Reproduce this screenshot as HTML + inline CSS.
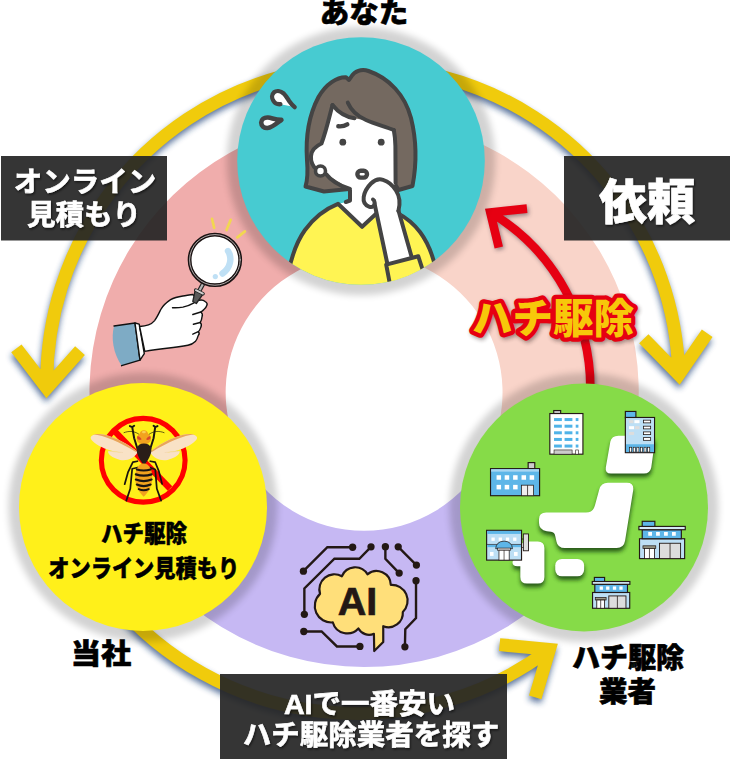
<!DOCTYPE html>
<html lang="ja">
<head>
<meta charset="utf-8">
<title>ハチ駆除 オンライン見積もり</title>
<style>
html,body{margin:0;padding:0;background:#fff;}
body{width:731px;height:759px;overflow:hidden;font-family:"Liberation Sans","Noto Sans CJK JP",sans-serif;}
svg{display:block;}
text{font-family:"Liberation Sans","Noto Sans CJK JP",sans-serif;font-weight:700;}
.blk{font-weight:900;}
</style>
</head>
<body>
<svg width="731" height="759" viewBox="0 0 731 759">
<defs>
  <filter id="glow" x="-20%" y="-20%" width="140%" height="140%">
    <feGaussianBlur stdDeviation="3.8"/>
  </filter>
  <filter id="arrsh2" x="-10%" y="-10%" width="120%" height="120%">
    <feGaussianBlur stdDeviation="3"/>
  </filter>
  <filter id="arrsh" x="-10%" y="-10%" width="120%" height="120%">
    <feGaussianBlur stdDeviation="2"/>
  </filter>
  <filter id="txtsh" x="-10%" y="-10%" width="120%" height="130%">
    <feDropShadow dx="1" dy="1.5" stdDeviation="1" flood-color="#000" flood-opacity="0.6"/>
  </filter>
  <clipPath id="clipTop"><circle cx="361" cy="161" r="123.8"/></clipPath>
</defs>

<!-- donut ring -->
<g id="ring">
  <path d="M120.5 519.1A274.6 274.6 0 0 1 364.1 117.7L364.1 253.9A138.4 138.4 0 0 0 241.3 456.2Z" fill="#F0ADAC"/>
  <path d="M364.1 117.7A274.6 274.6 0 0 1 607.5 519.5L486.8 456.4A138.4 138.4 0 0 0 364.1 253.9Z" fill="#F9D4C9"/>
  <path d="M607.5 519.5A274.6 274.6 0 0 1 120.5 519.1L241.3 456.2A138.4 138.4 0 0 0 486.8 456.4Z" fill="#C6B8F3"/>
</g>

<!-- yellow arcs -->
<g id="arcs">
  <g fill="none" stroke="#1F4178" stroke-width="13" stroke-linejoin="miter" opacity="0.72" filter="url(#arrsh2)" transform="translate(-0.5,4)">
    <path d="M280.0 77.1A316.2 316.2 0 0 0 46.8 388.0M16.4 348.4L46.8 388.0L80.0 350.6"/>
    <path d="M443.6 77.1A316.2 316.2 0 0 1 678.8 374.5M643.8 338.8L678.8 374.5L707.2 333.3"/>
    <path d="M113.9 600.2A318.7 318.7 0 0 0 549.4 649.4M535.2 697.3L549.4 649.4L499.6 644.6"/>
  </g>
  <g fill="none" stroke="#F0CB0C" stroke-width="13" stroke-linejoin="miter">
    <path d="M280.0 77.1A316.2 316.2 0 0 0 46.8 388.0M16.4 348.4L46.8 388.0L80.0 350.6"/>
    <path d="M443.6 77.1A316.2 316.2 0 0 1 678.8 374.5M643.8 338.8L678.8 374.5L707.2 333.3"/>
    <path d="M113.9 600.2A318.7 318.7 0 0 0 549.4 649.4M535.2 697.3L549.4 649.4L499.6 644.6"/>
  </g>
</g>

<!-- circles -->
<g id="redarrow-wrap">
  <g id="redarrow" fill="none" stroke-linejoin="miter">
    <path d="M590.2 396.0A204.5 204.5 0 0 0 490.3 212.4M527 208.6L490.3 212.4L498.8 247.6" stroke="#3a3040" stroke-width="8.6" opacity="0.5" filter="url(#arrsh)" transform="translate(1.5,2)"/>
    <path d="M590.2 396.0A204.5 204.5 0 0 0 490.3 212.4M527 208.6L490.3 212.4L498.8 247.6" stroke="#E60012" stroke-width="8.6"/>
  </g>
</g>
<g id="circles">
  <g fill="#000" opacity="0.172" filter="url(#glow)">
    <circle cx="361" cy="161" r="134.3"/>
    <circle cx="143" cy="507" r="134.5"/>
    <circle cx="584" cy="507.5" r="134.5"/>
  </g>
  <circle cx="361" cy="161" r="123.8" fill="#47CBD1"/>
  <g id="woman" clip-path="url(#clipTop)">
    <g stroke="#444" stroke-width="4" stroke-linecap="round" stroke-linejoin="round" fill="none">
      <!-- hair back -->
      <path d="M346 77.3C337 77 326 84 318.5 97C309 115 305.5 138 307 160C308 172 307.5 180 305.5 186.5L324 191.5L349 189L395 184L398.5 190L412.5 186C416.5 165 416.5 140 411 118C405 95 389 78 368.5 71C361 68.5 354.5 71.5 351.5 76.3L349 80Z" fill="#746960"/>
      <!-- neck / chest skin -->
      <path d="M350 186L350 201L338 204L362 227L380 212L392 186Z" fill="#fff" stroke="none"/>
      <!-- shirt -->
      <path d="M338 203.8C325 209 313 219 305 230C297 241 292 255 288.5 272L286 300L440 300L435.5 268C432 252 426 240 420 232C413 223 405 217 398 213.5L378 212L362.1 226.8Z" fill="#FFF453"/>
      <!-- neck lines -->
      <path d="M350 189L350 200.5L345.8 202"/>
      <!-- face -->
      <path d="M332.5 105C338 112 346 117 354.5 118.3C368 120.5 382 125 393.8 130L395.6 184L372 200L350 189L326 174C318 172 310.5 164 311 156C311.5 150 316 146 321.5 143.5C326.5 130 329.5 116 332.5 105Z" fill="#fff" stroke="none"/>
      <path d="M332.5 105C329.5 116 326.5 130 321.5 143.5C316 146 311.5 150 311 156C310.5 162 313.5 167 317 170"/>
      <path d="M326 174C331 180.5 340 186 350 189"/>
      <path d="M393.8 130C394.8 135 395.3 140 395.4 146L395.6 183"/>
      <!-- bangs -->
      <path d="M332.5 105C338 112 346 117 354.5 118.3"/>
      <path d="M347.8 102.7C351 110 357 116 366 120C375 124 385 126.5 393.8 130"/>
      <!-- brow -->
      <path d="M338.3 126.3C341 126.6 344.6 126 347.3 124.3" stroke-width="4.4"/>
      <!-- eyes -->
      <circle cx="342.8" cy="142.2" r="3.4" fill="#444" stroke="none"/>
      <circle cx="381.2" cy="142.2" r="3.4" fill="#444" stroke="none"/>
      <!-- mouth -->
      <rect x="357.4" y="170.8" width="9.6" height="6.8" rx="3.3" fill="#fff" stroke-width="4.4"/>
      <!-- earring -->
      <circle cx="320.5" cy="171" r="5" fill="#fff" stroke-width="3.6"/>
      <!-- arm -->
      <path d="M373 199L387.4 264L412 257.5L399 206L385 190Z" fill="#fff" stroke="none"/>
      <path d="M374.5 203.5L387.2 263"/>
      <path d="M398.4 210.3L411.5 256.5"/>
      <!-- sleeve -->
      <path d="M386.2 264.6L418.3 256.3L426 280L392 295Z" fill="#FFF453"/>
      <!-- fist -->
      <path d="M398.4 211C400.3 204 399.5 196 396 190.5C393 185.5 388.5 181.5 383 179.8C378.5 178.5 374.5 180 371 183.5C367.5 187 364.5 191.5 363.7 197C363 202 365.5 205.5 369.5 206.8C372.5 207.8 374.8 205.5 374.6 202.5C374.5 201 374 200 373 199.5" fill="#fff"/>
      
      <!-- sweat -->
      <path d="M280.4 104.2C277.5 104.5 275 103.5 273.5 101C271.5 98 271.5 94.5 274 92.3C276.5 90.3 280.5 90.8 283.7 93.5C286 95.8 287.5 98.5 289.5 101.5C291 103.8 292.8 105.5 294.7 107.1" fill="#fff" stroke-width="4.3"/>
      <path d="M281.4 119.8C276 120 272 118 268 117.5C264 117.2 261.2 119.5 261.2 122.6C261.2 126 264 128.2 267.5 128C272 127.5 276.5 123.5 281.4 119.8Z" fill="#fff" stroke-width="4.6"/>
    </g>
  </g>
  <circle cx="143" cy="507" r="124" fill="#FFF01A"/>
  <circle cx="584" cy="507.5" r="124" fill="#86DB48"/>
  <g id="magnifier" stroke-linecap="round" stroke-linejoin="round">
    <!-- rays -->
    <g stroke="#F2D750" stroke-width="2.7" fill="none">
      <path d="M212 218.8L214.2 227.9M230.7 219.8L226.5 230.1M244.9 231.4L237.4 237.4"/>
    </g>
    <!-- sleeve -->
    <path d="M114 326C111 338 113 353 121.6 365.7L140 360.2L135 323Z" fill="#7EABC5"/>
    <path d="M114 326L135 323L140 360.2L121.6 365.7" fill="none" stroke="#111" stroke-width="1.4"/>
    <!-- cuff -->
    <path d="M135 323L139.2 324.2L144.3 353.6L140 360.2Z" fill="#fff" stroke="#111" stroke-width="1.4"/>
    <!-- handle -->
    <path d="M203 284L198.6 292" stroke="#222" stroke-width="4.6" fill="none" stroke-linecap="butt"/>
    <path d="M203 284L198.6 292" stroke="#B5B5B5" stroke-width="2.2" fill="none" stroke-linecap="butt"/>
    <!-- hand -->
    <path d="M139.6 326.5C143 326.3 146 325.8 148.5 324.9C151 324 153 322.5 154.6 320.6C157 317.5 158.8 313.5 160.8 309.5C163 305.5 166.5 302.5 170.6 299.7C174.5 297.5 178.5 296.7 182.9 296C186.5 295.5 190 294.8 192.8 294.5L198.9 300.3C201 299.8 203.5 300 205.1 301.5C206.8 302.5 207.5 304 206.9 305.2C206.3 307 205.2 308.5 203.9 309.5C203 310.5 202 311.3 200.8 312C202.3 313.2 202.8 315 202 316.9C201.8 319 201.2 321 200.2 322.5C201.5 323.8 201.6 325.8 200.8 327.4C200.3 329 199.5 330.6 198.3 331.7C199.5 332.8 199.3 334.2 198.3 335.4C197.7 337.6 196.8 339.8 195.3 341.6C193.3 343.6 190.8 344.8 187.9 345.3C181 346.8 174 347.6 166.9 348.3C159.5 349.2 152 350.2 144.8 351.4Z" fill="#fff" stroke="#111" stroke-width="1.4"/>
    <path d="M172.5 307.7C176 307.9 179.5 307.7 182.9 307.1C187 306.2 190.7 304.7 194 302.8M200.8 312L192.8 314.5M200.2 322.5L193.4 324.3M198.3 331.7L192.8 334.2" fill="none" stroke="#111" stroke-width="1.4"/>
    <path d="M195.2 290.2L203 294.2L196.3 303.5L192.8 301.5Z" fill="#5A5A5A" stroke="#222" stroke-width="1.3"/>
    <path d="M195.6 290L203.2 293.8" stroke="#222" stroke-width="3.2" fill="none"/>
    <path d="M195.9 290.1L202.9 293.6" stroke="#D0D0D0" stroke-width="1.8" fill="none"/>
    <!-- lens -->
    <circle cx="214.9" cy="259.9" r="25.3" fill="#fff" stroke="#1a1212" stroke-width="3.8"/>
    <circle cx="214.9" cy="259.9" r="25.3" fill="none" stroke="#d8d2d2" stroke-width="0.8"/>
    <path d="M228 251C232.5 258 230.5 268 222.5 273.5" fill="none" stroke="#BFE0F5" stroke-width="6.4"/>
    <circle cx="215.3" cy="276.6" r="2.6" fill="#BFE0F5"/>
  </g>
  <g id="hornet" transform="translate(80,410) scale(0.16420)">
    <circle cx="385" cy="306" r="255" fill="none" stroke="#FF0000" stroke-width="31"/>
    <path d="M212 130L548 478" stroke="#FF0000" stroke-width="38" fill="none"/>
    <!-- wings -->
    <path d="M347 251C300 212 222 168 150 150C110 141 70 147 65 168C63 186 100 214 150 234C180 246 215 254 250 258C215 256 185 250 172 250C165 268 195 292 245 304C290 312 328 294 347 264Z" fill="#F9E2C6"/>
    <path d="M347 251C300 212 222 168 150 150C122 144 96 145 80 151C140 150 245 198 338 254Z" fill="#E9A55A"/>
    <path d="M172 250C200 252 230 258 262 259" fill="none" stroke="#EFCFA6" stroke-width="3"/>
    <path d="M431 251C478 212 556 168 628 150C668 141 708 147 713 168C715 186 678 214 628 234C598 246 563 254 528 258C563 256 593 250 606 250C613 268 583 292 533 304C488 312 450 294 431 264Z" fill="#F9E2C6"/>
    <path d="M431 251C478 212 556 168 628 150C656 144 682 145 698 151C638 150 533 198 440 254Z" fill="#E9A55A"/>
    <path d="M606 250C578 252 548 258 516 259" fill="none" stroke="#EFCFA6" stroke-width="3"/>
    <!-- legs -->
    <g fill="none" stroke="#1a1410" stroke-width="10.5" stroke-linecap="round" stroke-linejoin="round">
      <path d="M350 236L330 172L318 104M318 104L304 98M318 104L330 96" stroke-width="12"/>
      <path d="M428 236L448 172L458 104M458 104L472 98M458 104L448 96" stroke-width="12"/>
      <path d="M350 312L322 318L292 380L272 452"/>
      <path d="M428 312L458 318L480 372L500 450"/>
      <path d="M352 350L318 358L306 480L282 552"/>
      <path d="M426 350L458 362L468 480L494 552"/>
    </g>
    <g fill="none" stroke="#1a1410" stroke-width="4" stroke-linecap="round">
      <path d="M362 150C335 128 300 125 268 138"/>
      <path d="M418 150C445 128 480 125 512 138"/>
    </g>
    <!-- head -->
    <path d="M389 124C404 124 412 134 416 146C428 152 434 166 432 180C430 198 412 210 389 210C366 210 348 198 346 180C344 166 350 152 362 146C366 134 374 124 389 124Z" fill="#F2A21E"/>
    <path d="M350 158C362 160 372 168 375 180C364 185 352 180 347 170Z" fill="#D9452B"/>
    <path d="M428 158C416 160 406 168 403 180C414 185 426 180 431 170Z" fill="#D9452B"/>
    <path d="M376 134C380 126 398 126 402 134C398 144 380 144 376 134Z" fill="#F9CE55"/>
    <!-- thorax -->
    <path d="M389 204C410 204 426 212 434 232C438 258 428 290 390 338C352 290 342 258 346 232C354 212 368 204 389 204Z" fill="#2A1D18"/>
    <!-- abdomen -->
    <path d="M388 326C425 326 442 370 440 420C437 470 412 505 388 528C364 505 339 470 336 420C334 370 351 326 388 326Z" fill="#F2A21E"/>
    <g fill="none" stroke="#1a1410" stroke-width="13" stroke-linecap="round">
      <path d="M346 362C372 370 404 370 430 362"/>
      <path d="M340 392C372 402 404 402 436 392"/>
      <path d="M340 424C372 436 404 436 436 424"/>
      <path d="M346 454C372 466 404 466 430 454"/>
      <path d="M358 482C376 490 400 490 418 482"/>
    </g>
  </g>
  <g id="ai" transform="translate(290,530) scale(0.19152)">
    <g fill="none" stroke="#231815" stroke-width="12.5" stroke-linejoin="miter">
      <path d="M70 215L195 90L327 90"/>
      <path d="M75 440L75 305L232 150L362 150L423 88"/>
      <path d="M498 87L498 150L570 225"/>
      <path d="M565 88L660 183"/>
      <path d="M658 265L658 460L602 518L600 610"/>
      <path d="M72 530L165 530L245 608L365 608"/>
    </g>
    <g fill="#231815">
      <circle cx="70" cy="215" r="19"/><circle cx="327" cy="90" r="19"/><circle cx="75" cy="440" r="19"/><circle cx="423" cy="88" r="19"/>
      <circle cx="498" cy="87" r="19"/><circle cx="570" cy="225" r="19"/><circle cx="565" cy="88" r="19"/><circle cx="660" cy="183" r="19"/>
      <circle cx="658" cy="265" r="19"/><circle cx="600" cy="610" r="19"/><circle cx="72" cy="530" r="19"/><circle cx="365" cy="608" r="19"/>
    </g>
  </g>
  <g transform="translate(305,560) scale(0.15048)">
    <path d="M100 225A100 100 0 0 1 245 108A95 95 0 0 1 415 95A95 95 0 0 1 570 165A105 105 0 0 1 650 345A95 95 0 0 1 520 440L520 545L460 605L458 490A80 80 0 0 1 355 455A100 100 0 0 1 185 415A110 110 0 0 1 100 225Z" fill="#FFDF7A" stroke="#231815" stroke-width="14.5" stroke-linejoin="round"/>
  </g>
  <text x="357.5" y="614.9" font-size="39.5" text-anchor="middle" fill="#231815" stroke="#231815" stroke-width="0.7">AI</text>
  <g id="japan" transform="translate(480,400) scale(0.30096)">
    <defs>
      <linearGradient id="bl" x1="0" y1="0" x2="0" y2="1"><stop offset="0" stop-color="#4FAEEA"/><stop offset="1" stop-color="#CFE8F8"/></linearGradient>
      <filter id="jpsh" x="-10%" y="-10%" width="120%" height="130%"><feGaussianBlur stdDeviation="7.5"/></filter>
    </defs>
    <g fill="#245216" opacity="0.95" filter="url(#jpsh)" transform="translate(1,12)">
      <path d="M460 119L564 119Q584 119 581 139L569 224Q565 244 545 244L435 244Q415 244 418 224L433 139Q437 119 460 119Z"/>
      <path d="M425 275L488 275Q512 275 509 300L482 468Q478 492 454 492L282 492Q258 492 254 470L250 452Q248 440 236 438L222 436Q196 432 196 408L196 396Q196 374 220 374L352 374Q376 374 382 350L396 298Q402 275 425 275Z"/>
      <rect x="250" y="528" width="96" height="58" rx="22"/>
      <path d="M160 470L192 470Q214 470 214 492L214 588Q214 610 192 610L156 610Q134 610 134 588L134 552L124 552Q108 552 108 540Q108 528 124 528L134 528L134 492Q134 470 160 470Z"/>
    </g>
    <g fill="#fff">
      <path d="M460 119L564 119Q584 119 581 139L569 224Q565 244 545 244L435 244Q415 244 418 224L433 139Q437 119 460 119Z"/>
      <path d="M425 275L488 275Q512 275 509 300L482 468Q478 492 454 492L282 492Q258 492 254 470L250 452Q248 440 236 438L222 436Q196 432 196 408L196 396Q196 374 220 374L352 374Q376 374 382 350L396 298Q402 275 425 275Z"/>
      <rect x="250" y="528" width="96" height="58" rx="22"/>
      <path d="M160 470L192 470Q214 470 214 492L214 588Q214 610 192 610L156 610Q134 610 134 588L134 552L124 552Q108 552 108 540Q108 528 124 528L134 528L134 492Q134 470 160 470Z"/>
    </g>
    <g stroke="#231815" stroke-width="3.8" stroke-linejoin="miter">
      <!-- B1 -->
      <rect x="245" y="35" width="23" height="11" fill="#ccc"/>
      <rect x="232" y="45" width="110" height="135" fill="#fff"/>
      <rect x="246" y="60" width="26" height="10" fill="#4FB3E8" stroke="none"/><rect x="281" y="60" width="26" height="10" fill="#4FB3E8" stroke="none"/><rect x="318" y="60" width="9" height="10" fill="#4FB3E8" stroke="none"/><rect x="246" y="82" width="26" height="10" fill="#4FB3E8" stroke="none"/><rect x="281" y="82" width="26" height="10" fill="#4FB3E8" stroke="none"/><rect x="318" y="82" width="9" height="10" fill="#4FB3E8" stroke="none"/><rect x="246" y="104" width="26" height="10" fill="#4FB3E8" stroke="none"/><rect x="281" y="104" width="26" height="10" fill="#4FB3E8" stroke="none"/><rect x="318" y="104" width="9" height="10" fill="#4FB3E8" stroke="none"/><rect x="246" y="126" width="26" height="10" fill="#4FB3E8" stroke="none"/><rect x="281" y="126" width="26" height="10" fill="#4FB3E8" stroke="none"/><rect x="318" y="126" width="9" height="10" fill="#4FB3E8" stroke="none"/><rect x="246" y="148" width="26" height="10" fill="#4FB3E8" stroke="none"/><rect x="281" y="148" width="26" height="10" fill="#4FB3E8" stroke="none"/><rect x="318" y="148" width="9" height="10" fill="#4FB3E8" stroke="none"/>
      <rect x="246" y="166" width="60" height="14" fill="#ccc" stroke-width="2"/>
      <rect x="318" y="166" width="9" height="14" fill="#fff" stroke-width="2"/>
      <!-- B2 -->
      <rect x="483" y="38" width="35" height="21" fill="#5EB6E8"/>
      <rect x="483" y="58" width="97" height="117" fill="#BDDFF5"/>
      <rect x="485" y="147" width="93" height="26" fill="#5EB6E8" stroke="none"/>
      <rect x="495" y="67" width="15" height="10" fill="#ddd" stroke="none"/><rect x="513" y="67" width="17" height="10" fill="#fff" stroke="none"/>
      <rect x="495" y="87" width="17" height="10" fill="#fff" stroke="none"/><rect x="515" y="87" width="15" height="10" fill="#ddd" stroke="none"/>
      <rect x="495" y="106" width="17" height="10" fill="#ddd" stroke="none"/>
      <rect x="543" y="67" width="24" height="9" fill="#fff" stroke-width="2.6"/><rect x="543" y="87" width="24" height="9" fill="#fff" stroke-width="2.6"/><rect x="543" y="106" width="24" height="9" fill="#fff" stroke-width="2.6"/><rect x="543" y="125" width="24" height="9" fill="#fff" stroke-width="2.6"/>
      <rect x="497" y="157" width="7" height="16" fill="#fff" stroke-width="2.2"/><rect x="509" y="157" width="7" height="16" fill="#fff" stroke-width="2.2"/><rect x="521" y="157" width="7" height="16" fill="#fff" stroke-width="2.2"/><rect x="533" y="157" width="7" height="16" fill="#fff" stroke-width="2.2"/><rect x="545" y="157" width="7" height="16" fill="#fff" stroke-width="2.2"/><rect x="557" y="157" width="7" height="16" fill="#fff" stroke-width="2.2"/>
      <!-- B3 -->
      <rect x="160" y="208" width="22" height="21" fill="#ccc"/>
      <rect x="35" y="228" width="163" height="90" fill="#5EB6E8"/><rect x="37" y="230" width="159" height="8" fill="#A9D6F2" stroke="none"/>
      <rect x="55" y="250" width="15" height="15" fill="#fff" stroke="none"/><rect x="82" y="250" width="15" height="15" fill="#fff" stroke="none"/><rect x="110" y="250" width="15" height="15" fill="#fff" stroke="none"/><rect x="138" y="250" width="15" height="15" fill="#fff" stroke="none"/><rect x="165" y="250" width="15" height="15" fill="#fff" stroke="none"/><rect x="55" y="282" width="15" height="15" fill="#fff" stroke="none"/><rect x="82" y="282" width="15" height="15" fill="#fff" stroke="none"/><rect x="110" y="282" width="15" height="15" fill="#fff" stroke="none"/>
      <rect x="138" y="283" width="40" height="35" fill="#eee" stroke-width="2.5"/>
      <path d="M158 283L158 318" fill="none" stroke-width="2.5"/>
      <!-- B4 -->
      <path d="M138 462L146 462M138 490L146 490" fill="none" stroke-width="2.5"/>
      <rect x="144" y="445" width="17" height="56" fill="#ddd" stroke-width="3"/>
      <rect x="22" y="433" width="116" height="99" fill="#BDDFF5"/>
      <rect x="24" y="435" width="112" height="10" fill="#5EB6E8" stroke="none"/>
      <rect x="24" y="480" width="112" height="9" fill="#5EB6E8" stroke="none"/>
      <path d="M22 480L138 480" fill="none" stroke-width="2"/>
      <rect x="38" y="457" width="11" height="11" fill="#fff" stroke="none"/><rect x="62" y="457" width="11" height="11" fill="#fff" stroke="none"/><rect x="86" y="457" width="11" height="11" fill="#fff" stroke="none"/><rect x="110" y="457" width="11" height="11" fill="#fff" stroke="none"/>
      <path d="M52 494Q54 470 80 469Q106 470 108 494Z" fill="#5EB6E8" stroke-width="2.5"/>
      <rect x="58" y="492" width="44" height="7" fill="#eee" stroke-width="2.2"/>
      <rect x="63" y="499" width="34" height="33" fill="#fff" stroke-width="2.5"/>
      <path d="M80 499L80 532" fill="none" stroke-width="2.2"/>
      <rect x="33" y="505" width="12" height="13" fill="#fff" stroke="none"/><rect x="113" y="505" width="12" height="13" fill="#fff" stroke="none"/>
      <!-- B5 -->
      <rect x="539" y="403" width="42" height="18" fill="#5EB6E8"/>
      <rect x="530" y="461" width="150" height="66" fill="#BDDFF5"/>
      <rect x="539" y="431" width="130" height="30" fill="#5EB6E8"/>
      <rect x="528" y="420" width="154" height="11" fill="#D5EAF7"/>
      <rect x="559" y="438.6" width="12.5" height="12.5" fill="#fff" stroke="none"/><rect x="585" y="438.6" width="12.5" height="12.5" fill="#fff" stroke="none"/><rect x="611.5" y="438.6" width="12.5" height="12.5" fill="#fff" stroke="none"/><rect x="638" y="438.6" width="12.5" height="12.5" fill="#fff" stroke="none"/>
      <rect x="596.5" y="476" width="70" height="51" fill="#ddd" stroke-width="3"/>
      <path d="M631.5 476L631.5 527" fill="none" stroke-width="2.6"/>
      <rect x="541.5" y="484.5" width="42.5" height="8.5" fill="#9a9a8a" stroke-width="2.4"/>
      <rect x="546.5" y="493" width="33.5" height="34" fill="#fff" stroke-width="2.8"/>
      <path d="M563 493L563 527" fill="none" stroke-width="2.4"/>
      <!-- B6 -->
      <rect x="380" y="589.5" width="34" height="14" fill="#5EB6E8"/>
      <rect x="374" y="639.5" width="123.5" height="52.5" fill="#BDDFF5"/>
      <rect x="381.5" y="612" width="108.5" height="27.5" fill="#5EB6E8"/>
      <rect x="373" y="603" width="125" height="9.5" fill="#D5EAF7"/>
      <rect x="397.5" y="619.5" width="11" height="11" fill="#fff" stroke="none"/><rect x="419" y="619.5" width="11" height="11" fill="#fff" stroke="none"/><rect x="441.5" y="619.5" width="11" height="11" fill="#fff" stroke="none"/><rect x="463" y="619.5" width="11" height="11" fill="#fff" stroke="none"/>
      <rect x="428" y="651" width="57" height="41" fill="#ddd" stroke-width="3"/>
      <path d="M456.5 651L456.5 692" fill="none" stroke-width="2.6"/>
      <rect x="383" y="656" width="36" height="8.5" fill="#9a9a8a" stroke-width="2.4"/>
      <rect x="388" y="664.5" width="26" height="27.5" fill="#fff" stroke-width="2.8"/>
      <path d="M401 664.5L401 692" fill="none" stroke-width="2.4"/>
    </g>
  </g>
  <!-- ICONS -->
</g>

<!-- labels -->
<g id="labels">
  <rect x="1" y="156" width="166" height="84.5" fill="#262626" fill-opacity="0.93"/>
  <rect x="564" y="156" width="166" height="84.5" fill="#262626" fill-opacity="0.93"/>
  <rect x="220" y="674" width="287" height="86" fill="#262626" fill-opacity="0.93"/>
  <g fill="#fff" stroke="#fff" stroke-width="0.6" text-anchor="middle" font-size="28.5" filter="url(#txtsh)">
    <text x="85" y="191.5">オンライン</text>
    <text x="84" y="225">見積もり</text>
    <text x="369.5" y="713.5">AIで一番安い</text>
    <text x="371" y="745">ハチ駆除業者を探す</text>
    <text x="647" y="219" font-size="48" class="blk">依頼</text>
  </g>
  <g fill="#000" stroke="#000" stroke-width="0.6" text-anchor="middle" font-size="28.5">
    <text transform="translate(364,23.3) scale(1.035,1)" class="blk">あなた</text>
    <text transform="translate(101,664) scale(1.06,1)" class="blk">当社</text>
    <text transform="translate(628,668) scale(0.985,1)" class="blk">ハチ駆除</text>
    <text transform="translate(627.5,702) scale(1.0,1)" class="blk">業者</text>
  </g>
  <g fill="#000" stroke="#000" stroke-width="0.5" text-anchor="middle" font-size="21" class="blk">
    <text transform="translate(144,541.6) scale(0.905,1)" font-size="23.7" class="blk">ハチ駆除</text>
    <text transform="translate(143.7,576.5) scale(0.895,1)" font-size="23.7" class="blk">オンライン見積もり</text>
  </g>
  <g font-size="40.5" class="blk" text-anchor="middle">
    <text x="554.5" y="335" fill="#2a1a1a" stroke="#2a1a1a" stroke-width="8.6" stroke-linejoin="round" opacity="0.45" filter="url(#arrsh)" class="blk">ハチ駆除</text>
    <text x="553" y="332.7" fill="#F7C80A" stroke="#E60012" stroke-width="8.6" stroke-linejoin="round" paint-order="stroke fill" class="blk">ハチ駆除</text>
  </g>
</g>
</svg>
</body>
</html>
